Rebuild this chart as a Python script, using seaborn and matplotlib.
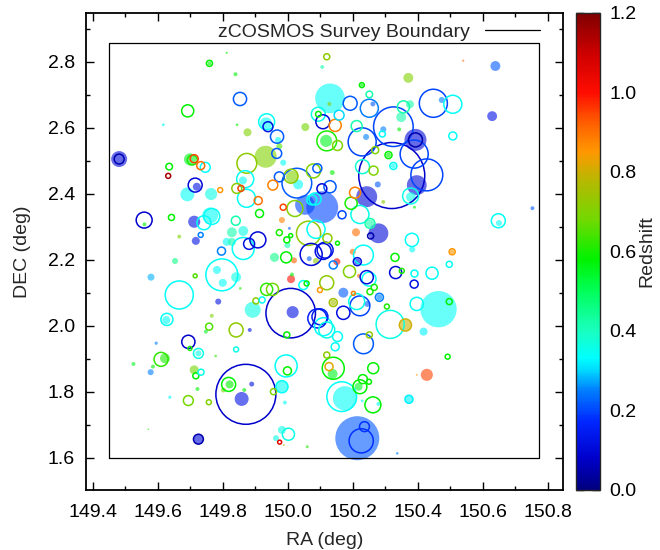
import numpy as np
import pandas as pd
import matplotlib
matplotlib.use("Agg")
import matplotlib.pyplot as plt
import seaborn as sns
from matplotlib.colors import LinearSegmentedColormap, Normalize
from matplotlib.cm import ScalarMappable
from matplotlib.ticker import MultipleLocator, FormatStrFormatter

sns.set_theme(style="ticks")
plt.rcParams["font.family"] = ["Liberation Sans", "DejaVu Sans"]

# ---------------- data ----------------
# filled (semi-transparent) galaxy-group circles: RA, DEC (deg), radius (arcmin), redshift
fill_ra = [149.812, 149.759, 149.839, 150.106, 149.617, 149.844, 149.933, 149.876, 149.970, 149.974,
           149.932, 149.986, 149.481, 149.699, 150.130, 150.128, 150.118, 150.054, 150.013, 150.032,
           149.862, 150.137, 150.106, 150.053, 150.228, 150.262, 150.376, 150.349, 150.294, 150.343,
           150.393, 150.241, 150.310, 150.325, 150.397, 150.379, 150.243, 150.294, 150.277, 150.540,
           150.639, 150.371, 150.474, 150.629, 150.390, 150.253, 150.210, 150.279, 150.650, 150.753,
           150.383, 150.200, 150.214, 150.151, 150.506, 150.219, 150.171, 150.464, 150.282, 150.140,
           150.245, 150.362, 150.418, 149.720, 149.691, 149.764, 149.559, 149.761, 149.712, 149.666,
           149.717, 149.828, 149.863, 149.828, 149.812, 149.653, 149.579, 149.782, 149.800, 149.841,
           149.854, 149.786, 149.626, 149.766, 149.748, 149.883, 150.015, 149.892, 149.982, 150.005,
           149.999, 149.959, 150.019, 150.066, 150.087, 150.010, 150.013, 149.595, 149.525, 149.622,
           149.585, 149.578, 149.725, 149.778, 149.712, 149.722, 149.637, 149.821, 149.802, 149.866,
           149.858, 149.889, 149.982, 149.991, 149.571, 149.725, 149.982, 149.964, 149.988, 150.060,
           150.138, 150.176, 150.218, 150.279, 150.428, 150.397, 150.373, 150.214, 150.337, 150.229]
fill_dec = [2.827, 2.795, 2.762, 2.784, 2.609, 2.609, 2.613, 2.586, 2.563, 2.544,
            2.512, 2.494, 2.505, 2.504, 2.689, 2.672, 2.560, 2.602, 2.451, 2.428,
            2.440, 2.464, 2.359, 2.366, 2.729, 2.672, 2.671, 2.632, 2.595, 2.595,
            2.563, 2.572, 2.517, 2.484, 2.426, 2.390, 2.391, 2.375, 2.428, 2.803,
            2.787, 2.751, 2.684, 2.635, 2.359, 2.310, 2.283, 2.280, 2.311, 2.356,
            2.231, 2.224, 2.194, 2.194, 2.224, 2.151, 2.100, 2.050, 2.086, 2.070,
            2.066, 2.002, 1.982, 2.421, 2.398, 2.399, 2.307, 2.334, 2.315, 2.270,
            2.257, 2.283, 2.287, 2.254, 2.254, 2.196, 2.147, 2.169, 2.130, 2.147,
            2.113, 2.073, 2.017, 2.030, 1.982, 1.987, 2.041, 2.048, 2.320, 2.295,
            2.244, 2.207, 2.198, 2.203, 2.196, 2.141, 2.155, 1.947, 1.884, 1.901,
            1.876, 1.859, 1.916, 1.908, 1.866, 1.808, 1.783, 1.822, 1.805, 1.805,
            1.778, 1.823, 1.815, 1.767, 1.686, 1.656, 1.684, 1.659, 1.638, 1.633,
            1.854, 1.780, 1.815, 1.763, 1.851, 1.851, 1.777, 1.659, 1.613, 1.772]
fill_r = [0.2, 0.36, 0.36, 0.36, 0.27, 0.24, 1.1, 0.73, 0.55, 0.55,
          2.0, 0.55, 1.45, 1.1, 2.7, 0.36, 1.1, 0.73, 1.1, 0.9,
          0.73, 0.45, 2.9, 1.8, 0.3, 0.45, 0.73, 0.9, 0.55, 0.36,
          2.0, 0.55, 0.45, 0.45, 1.8, 0.9, 1.9, 0.36, 0.55, 0.2,
          0.9, 0.9, 0.55, 0.9, 0.27, 0.73, 0.73, 1.8, 0.55, 0.36,
          0.55, 0.55, 0.55, 0.64, 0.4, 0.36, 0.9, 3.3, 0.55, 0.55,
          0.55, 1.0, 0.73, 0.73, 1.27, 1.1, 0.36, 1.45, 1.1, 0.36,
          0.73, 0.9, 0.9, 0.73, 0.73, 0.55, 0.64, 0.73, 0.73, 0.9,
          0.24, 0.55, 0.73, 0.36, 0.36, 0.36, 1.1, 1.45, 0.55, 0.27,
          0.55, 0.82, 0.55, 0.45, 0.55, 0.73, 0.36, 0.3, 0.36, 0.9,
          0.36, 0.55, 0.55, 0.24, 0.82, 0.36, 0.3, 0.73, 0.45, 0.36,
          1.27, 0.45, 1.1, 0.36, 0.15, 0.9, 0.73, 0.55, 0.18, 0.27,
          0.9, 2.2, 0.73, 0.36, 1.1, 0.18, 0.73, 4.0, 0.24, 0.27]
fill_z = [0.58, 0.58, 0.58, 0.42, 0.34, 0.58, 0.34, 0.70, 0.34, 0.65,
          0.70, 0.34, 0.10, 0.55, 0.34, 0.72, 0.55, 0.68, 0.70, 0.34,
          0.34, 0.58, 0.20, 0.20, 0.58, 0.22, 0.42, 0.42, 0.25, 0.58,
          0.10, 0.25, 0.58, 0.34, 0.10, 0.36, 0.10, 0.72, 0.22, 0.90,
          0.22, 0.70, 0.25, 0.12, 0.58, 0.42, 0.90, 0.10, 0.34, 0.22,
          0.34, 0.90, 0.12, 1.00, 0.85, 0.90, 0.22, 0.34, 0.25, 0.75,
          0.22, 0.80, 0.32, 0.12, 0.34, 0.36, 0.58, 0.34, 0.12, 0.70,
          0.12, 0.42, 0.36, 0.42, 0.34, 0.45, 0.28, 0.34, 0.34, 0.36,
          0.60, 0.12, 0.34, 0.70, 0.55, 0.12, 0.12, 0.36, 0.88, 0.22,
          0.42, 0.45, 0.92, 0.22, 0.72, 1.00, 0.58, 0.25, 0.55, 0.60,
          0.58, 0.25, 0.36, 0.62, 0.68, 0.58, 0.34, 0.58, 0.68, 0.58,
          0.12, 0.12, 0.34, 0.34, 0.60, 0.10, 0.36, 0.36, 0.75, 0.60,
          0.55, 0.34, 0.55, 0.34, 0.95, 0.85, 0.32, 0.22, 0.25, 0.34]

# open circles: RA, DEC (deg), radius (arcmin), redshift
ring_ra = [149.759, 150.120, 149.853, 149.692, 149.935, 149.939, 149.967, 149.966, 149.874, 149.481,
           149.635, 149.632, 149.706, 149.712, 149.732, 149.746, 150.094, 150.094, 150.108, 150.120,
           150.079, 150.091, 150.010, 150.028, 149.974, 149.869, 149.843, 149.856, 149.873, 149.909,
           149.954, 149.986, 150.105, 150.084, 150.074, 150.022, 150.130, 150.146, 150.153, 150.228,
           150.251, 150.192, 150.251, 150.158, 150.212, 150.325, 150.356, 150.291, 150.393, 150.229,
           150.269, 150.310, 150.389, 150.428, 150.325, 150.320, 150.230, 150.264, 150.378, 150.207,
           150.195, 150.448, 150.508, 150.508, 150.222, 150.167, 150.253, 150.255, 150.648, 150.382,
           150.115, 150.122, 150.153, 150.233, 150.214, 150.140, 150.330, 150.506, 150.497, 150.332,
           150.351, 150.190, 150.390, 150.389, 150.444, 150.243, 150.250, 150.266, 150.253, 150.120,
           150.497, 150.397, 150.222, 150.171, 150.282, 150.202, 150.140, 150.212, 150.305, 150.315,
           150.362, 150.120, 150.099, 149.715, 149.792, 149.558, 149.642, 149.766, 149.742, 149.732,
           149.840, 149.863, 149.881, 149.908, 149.796, 149.797, 149.715, 149.666, 149.628, 149.758,
           149.841, 149.694, 150.009, 149.921, 149.902, 149.935, 149.953, 150.048, 150.058, 150.099,
           150.091, 150.110, 149.997, 150.064, 150.087, 149.974, 149.997, 150.009, 149.995, 150.072,
           150.109, 149.913, 149.699, 149.610, 149.725, 149.841, 149.733, 149.717, 149.694, 149.757,
           149.818, 149.871, 149.956, 149.995, 149.999, 149.982, 149.725, 150.002, 149.975, 150.153,
           150.146, 150.233, 150.251, 150.120, 150.140, 150.127, 150.263, 150.166, 150.222, 150.231,
           150.250, 150.262, 150.492, 150.373, 150.226, 150.236]
ring_dec = [2.795, 2.815, 2.687, 2.651, 2.618, 2.603, 2.573, 2.522, 2.492, 2.505,
            2.482, 2.454, 2.502, 2.506, 2.485, 2.480, 2.641, 2.641, 2.618, 2.560,
            2.469, 2.477, 2.453, 2.432, 2.451, 2.444, 2.416, 2.416, 2.386, 2.379,
            2.426, 2.359, 2.415, 2.384, 2.381, 2.355, 2.421, 2.607, 2.546, 2.729,
            2.701, 2.674, 2.659, 2.638, 2.605, 2.603, 2.663, 2.581, 2.563, 2.557,
            2.532, 2.517, 2.520, 2.457, 2.484, 2.455, 2.482, 2.470, 2.393, 2.403,
            2.371, 2.674, 2.671, 2.575, 2.337, 2.336, 2.310, 2.272, 2.318, 2.260,
            2.229, 2.265, 2.250, 2.214, 2.194, 2.184, 2.207, 2.224, 2.186, 2.161,
            2.166, 2.164, 2.158, 2.126, 2.159, 2.147, 2.141, 2.116, 2.103, 2.130,
            2.073, 2.066, 2.060, 2.039, 2.086, 2.098, 2.070, 2.073, 2.058, 2.004,
            2.002, 1.987, 2.027, 2.426, 2.411, 2.320, 2.328, 2.331, 2.312, 2.275,
            2.318, 2.234, 2.248, 2.260, 2.226, 2.154, 2.151, 2.093, 2.019, 1.997,
            1.987, 1.951, 2.038, 2.078, 2.075, 2.110, 2.110, 2.123, 2.128, 2.108,
            2.022, 1.997, 1.972, 2.280, 2.292, 2.282, 2.260, 2.273, 2.207, 2.216,
            2.225, 2.340, 1.931, 1.898, 1.916, 1.928, 1.859, 1.848, 1.773, 1.768,
            1.822, 1.792, 1.800, 1.878, 1.863, 1.815, 1.656, 1.671, 1.647, 1.967,
            1.936, 1.945, 1.972, 1.911, 1.871, 1.876, 1.871, 1.785, 1.815, 1.838,
            1.830, 1.760, 1.906, 1.777, 1.651, 1.694]
ring_r = [0.55, 0.55, 1.2, 1.1, 1.45, 0.9, 1.2, 0.9, 1.8, 0.9,
          0.6, 0.45, 0.9, 0.73, 0.73, 0.9, 1.27, 0.5, 1.27, 1.8,
          1.27, 0.82, 1.27, 2.7, 0.9, 1.55, 0.9, 0.55, 1.64, 0.73,
          0.9, 0.55, 0.9, 1.1, 0.9, 1.45, 1.1, 1.1, 0.9, 0.45,
          0.6, 1.27, 1.64, 0.9, 1.0, 3.6, 1.1, 0.55, 1.27, 2.55,
          0.64, 0.64, 2.55, 2.9, 0.64, 6.0, 1.27, 0.82, 1.45, 1.0,
          1.1, 2.55, 1.64, 0.73, 1.64, 0.73, 0.9, 0.55, 1.27, 1.2,
          1.45, 0.82, 0.36, 1.8, 0.73, 0.73, 0.73, 0.55, 0.55, 1.1,
          0.45, 1.1, 0.64, 0.73, 1.1, 1.2, 1.27, 0.55, 0.55, 1.27,
          0.55, 1.2, 1.8, 1.2, 0.73, 0.36, 0.73, 1.45, 0.45, 2.55,
          1.1, 1.45, 1.45, 1.27, 0.45, 1.45, 0.55, 1.45, 1.27, 0.45,
          0.82, 2.0, 1.0, 1.45, 0.73, 2.9, 0.36, 2.55, 1.1, 0.64,
          1.27, 1.2, 4.5, 0.55, 0.55, 1.1, 1.1, 0.82, 0.45, 0.45,
          1.73, 1.64, 0.55, 2.2, 1.64, 0.55, 0.55, 0.36, 1.0, 2.0,
          1.45, 0.73, 0.36, 1.27, 0.9, 0.45, 0.55, 0.55, 0.9, 0.45,
          1.27, 5.45, 0.55, 2.0, 0.73, 1.1, 0.9, 1.1, 0.36, 0.9,
          0.73, 1.8, 0.55, 0.55, 2.0, 0.73, 1.0, 2.7, 1.27, 0.82,
          0.45, 1.45, 0.45, 0.73, 2.2, 0.9]
ring_z = [0.58, 0.72, 0.22, 0.58, 0.34, 0.12, 0.22, 0.22, 0.72, 0.05,
          0.58, 1.15, 0.60, 0.95, 0.90, 0.34, 0.36, 0.58, 0.10, 0.60,
          0.70, 0.22, 0.72, 0.22, 0.22, 0.34, 0.72, 0.95, 0.34, 0.90,
          0.88, 0.95, 0.10, 0.34, 0.34, 0.70, 0.22, 0.88, 0.70, 0.58,
          0.42, 0.22, 0.25, 0.30, 0.42, 0.20, 0.42, 0.34, 0.05, 0.20,
          0.70, 0.58, 0.20, 0.20, 0.34, 0.08, 0.38, 0.70, 0.36, 0.88,
          0.60, 0.20, 0.34, 0.34, 0.36, 0.20, 0.42, 0.05, 0.34, 0.34,
          0.12, 0.72, 0.58, 0.34, 0.12, 0.25, 0.58, 0.85, 0.34, 0.10,
          0.60, 0.70, 0.34, 0.12, 0.34, 0.12, 0.34, 0.60, 0.60, 0.72,
          0.58, 0.34, 0.20, 0.12, 0.25, 0.88, 0.75, 0.36, 0.60, 0.36,
          0.80, 0.36, 0.15, 0.10, 0.85, 0.08, 0.58, 0.34, 0.34, 0.25,
          0.42, 0.34, 0.12, 0.10, 0.25, 0.34, 0.65, 0.34, 0.34, 0.65,
          0.72, 0.08, 0.08, 0.34, 0.72, 0.62, 0.68, 0.34, 0.58, 0.85,
          0.15, 0.34, 0.58, 0.72, 0.34, 0.60, 0.58, 0.58, 0.58, 0.10,
          0.12, 0.58, 0.60, 0.62, 0.36, 0.36, 0.36, 0.58, 0.68, 0.70,
          0.58, 0.08, 0.70, 0.34, 0.58, 0.34, 0.05, 0.36, 1.05, 0.34,
          0.34, 0.22, 0.72, 0.72, 0.58, 0.82, 0.58, 0.34, 0.58, 0.58,
          0.58, 0.58, 0.58, 0.32, 0.18, 0.18]

# survey boundary
bnd_ra = [149.451, 150.773, 150.773, 149.451, 149.451]
bnd_dec = [1.600, 1.600, 2.856, 2.856, 1.600]

x_ticks = [149.4, 149.6, 149.8, 150.0, 150.2, 150.4, 150.6, 150.8]
y_ticks = [1.6, 1.8, 2.0, 2.2, 2.4, 2.6, 2.8]
cb_ticks = [0.0, 0.2, 0.4, 0.6, 0.8, 1.0, 1.2]

# ---------------- style ----------------
stops = [(0.00, (0.0, 0.0, 0.5)), (0.08, (0.0, 0.0, 0.8)), (0.17, (0.0, 0.15, 1.0)),
         (0.25, (0.0, 0.5, 1.0)), (0.30, (0.0, 0.85, 1.0)), (0.33, (0.0, 1.0, 1.0)),
         (0.40, (0.1, 1.0, 0.75)), (0.50, (0.0, 1.0, 0.35)), (0.58, (0.0, 0.95, 0.0)),
         (0.68, (0.45, 0.85, 0.0)), (0.78, (0.72, 0.72, 0.0)), (0.85, (1.0, 0.6, 0.0)),
         (0.93, (1.0, 0.35, 0.0)), (1.00, (1.0, 0.05, 0.0)), (1.10, (0.8, 0.0, 0.0)),
         (1.20, (0.5, 0.0, 0.0))]
cmap = LinearSegmentedColormap.from_list("zcmap", [(v / 1.2, c) for v, c in stops])
norm = Normalize(0.0, 1.2)

fig = plt.figure(figsize=(6.6, 5.5), dpi=100)
ax = fig.add_axes([0.1303, 0.1091, 0.7227, 0.8678])
cax = fig.add_axes([0.8727, 0.1091, 0.0364, 0.8678])
ax.set_facecolor("white")

ax.set_xlim(149.379, 150.847)
ax.set_ylim(1.502, 2.9485)

px_per_deg = ax.bbox.height / (2.9485 - 1.502)


def marker_area(r_arcmin):
    d_pt = 2 * np.asarray(r_arcmin) / 60.0 * px_per_deg * 72.0 / fig.dpi
    return d_pt ** 2


df_fill = pd.DataFrame({"ra": fill_ra, "dec": fill_dec, "r": fill_r, "z": fill_z})
df_fill = df_fill.sort_values("r", ascending=False)
sns.scatterplot(data=df_fill, x="ra", y="dec", hue="z", palette=cmap, hue_norm=norm,
                s=marker_area(df_fill["r"]), linewidth=0, alpha=0.6, legend=False, ax=ax)

df_ring = pd.DataFrame({"ra": ring_ra, "dec": ring_dec, "r": ring_r, "z": ring_z})
df_ring = df_ring.sort_values("r", ascending=False)
sns.scatterplot(data=df_ring, x="ra", y="dec", hue="z", palette=cmap, hue_norm=norm,
                s=marker_area(df_ring["r"]), linewidth=1.1, legend=False, ax=ax)
rings = ax.collections[-1]
rings.set_edgecolors(rings.get_facecolors())
rings.set_facecolors("none")

ax.plot(bnd_ra, bnd_dec, color="black", lw=0.9, label="zCOSMOS Survey Boundary")
ax.legend(loc="center right", bbox_to_anchor=(0.952, 0.9596), frameon=False,
          markerfirst=False, handlelength=2.85, handletextpad=0.75,
          borderpad=0, borderaxespad=0, fontsize=14)

ax.set_xticks(x_ticks)
ax.set_yticks(y_ticks)
ax.xaxis.set_minor_locator(MultipleLocator(0.1))
ax.yaxis.set_minor_locator(MultipleLocator(0.1))
ax.xaxis.set_major_formatter(FormatStrFormatter("%.1f"))
ax.yaxis.set_major_formatter(FormatStrFormatter("%.1f"))
ax.tick_params(which="both", direction="in", top=True, right=True, colors="black", width=1.0)
ax.tick_params(which="major", length=6, labelsize=14)
ax.tick_params(which="minor", length=3.2)
ax.tick_params(axis="x", which="major", pad=10)
ax.tick_params(axis="y", which="major", pad=8)
for sp in ax.spines.values():
    sp.set_linewidth(1.3)
    sp.set_color("black")
ax.set_xlabel("RA (deg)", fontsize=14, labelpad=8)
ax.set_ylabel("DEC (deg)", fontsize=14, labelpad=12)
ax.grid(False)

cb = fig.colorbar(ScalarMappable(norm=norm, cmap=cmap), cax=cax)
cb.set_ticks(cb_ticks)
cb.ax.yaxis.set_major_formatter(FormatStrFormatter("%.1f"))
cb.ax.tick_params(direction="in", left=True, right=True, length=6, width=1.0,
                  labelsize=14, pad=7, colors="black")
cb.outline.set_linewidth(1.0)
cb.set_label("Redshift", fontsize=14, labelpad=1)

fig.savefig("out.png", dpi=100)
